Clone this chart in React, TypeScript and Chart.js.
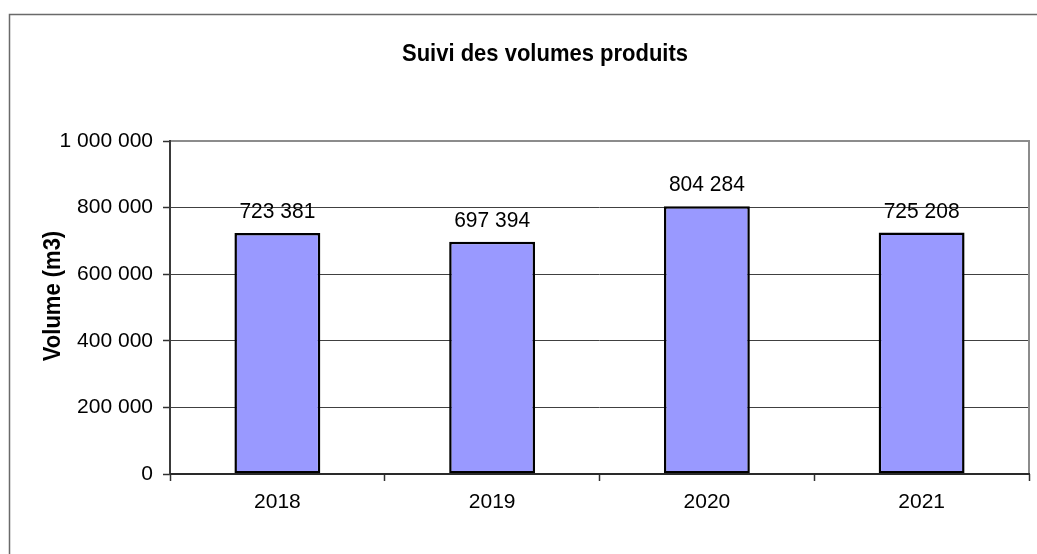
import React, { useEffect, useRef } from "react";
import { Chart, registerables } from "chart.js";

Chart.register(...registerables);

const categories = ["2018", "2019", "2020", "2021"];
const volumes = [723381, 697394, 804284, 725208];
const yTicks = [0, 200000, 400000, 600000, 800000, 1000000];
const chartTitle = "Suivi des volumes produits";
const yTitle = "Volume (m3)";

const FONT = '"Liberation Sans", Arial, sans-serif';
const fmt = (v: number) => String(v).replace(/\B(?=(\d{3})+(?!\d))/g, " ");

const decorPlugin = {
  id: "decor",
  beforeDraw(chart: any) {
    const ctx = chart.ctx;
    ctx.save();
    ctx.fillStyle = "#ffffff";
    ctx.fillRect(0, 0, chart.width, chart.height);
    ctx.strokeStyle = "#6a6a6a";
    ctx.lineWidth = 1.5;
    ctx.strokeRect(9.5, 14.5, 1200, 700);
    // titles
    ctx.fillStyle = "#000";
    ctx.font = `bold 22px ${FONT}`;
    ctx.textAlign = "center";
    ctx.textBaseline = "middle";
    ctx.save();
    ctx.translate(545, 54);
    ctx.scale(1, 1.12);
    ctx.fillText(chartTitle, 0, 0);
    ctx.restore();
    ctx.translate(53, 296);
    ctx.rotate(-Math.PI / 2);
    ctx.scale(1, 1.08);
    ctx.fillText(yTitle, 0, 0);
    ctx.restore();
  },
  afterDatasetsDraw(chart: any) {
    const ctx = chart.ctx;
    const a = chart.chartArea;
    ctx.save();
    // plot border: top & right gray
    ctx.strokeStyle = "#8c8c8c";
    ctx.lineWidth = 2;
    ctx.beginPath();
    ctx.moveTo(a.left, a.top);
    ctx.lineTo(a.right, a.top);
    ctx.lineTo(a.right, a.bottom);
    ctx.stroke();
    // left axis
    ctx.strokeStyle = "#3a3a3a";
    ctx.beginPath();
    ctx.moveTo(a.left, a.top - 1);
    ctx.lineTo(a.left, a.bottom + 1);
    ctx.stroke();
    // bottom axis
    ctx.strokeStyle = "#2a2a2a";
    ctx.beginPath();
    ctx.moveTo(a.left, a.bottom);
    ctx.lineTo(a.right + 1, a.bottom);
    ctx.stroke();
    // data labels
    const meta = chart.getDatasetMeta(0);
    ctx.fillStyle = "#000";
    ctx.font = `21px ${FONT}`;
    ctx.textAlign = "center";
    ctx.textBaseline = "alphabetic";
    meta.data.forEach((bar: any, i: number) => {
      ctx.save();
      ctx.translate(bar.x, bar.y - 15);
      ctx.scale(1, 1.08);
      ctx.fillText(fmt(volumes[i]), 0, 0);
      ctx.restore();
    });
    ctx.restore();
  },
};

export default function App() {
  const ref = useRef<HTMLCanvasElement>(null);
  useEffect(() => {
    if (!ref.current) return;
    const chart = new Chart(ref.current, {
      type: "bar",
      data: {
        labels: categories,
        datasets: [
          {
            data: volumes,
            backgroundColor: "#9999ff",
            borderColor: "#000000",
            borderWidth: 2.5,
            borderSkipped: false,
            barPercentage: 0.4,
            categoryPercentage: 1,
          },
        ],
      },
      options: {
        animation: false,
        responsive: false,
        devicePixelRatio: 1,
        layout: { padding: { left: 0, top: 141, right: 8, bottom: 0 } },
        plugins: { legend: { display: false }, title: { display: false }, tooltip: { enabled: false } },
        scales: {
          x: {
            offset: true,
            grid: {
              offset: true,
              drawOnChartArea: false,
              drawTicks: true,
              tickLength: 7,
              tickColor: "#303030",
              tickWidth: 1.5,
            },
            border: { display: false },
            ticks: { color: "#000", font: { family: FONT, size: 21 }, padding: 9, maxRotation: 0 },
            afterFit: (s: any) => { s.height = 80; },
          },
          y: {
            min: 0,
            max: 1000000,
            afterBuildTicks: (s: any) => { s.ticks = yTicks.map((v) => ({ value: v })); },
            grid: {
              color: (c: any) => (c.tick && (c.tick.value === 0 || c.tick.value === 1000000) ? "rgba(0,0,0,0)" : "#404040"),
              lineWidth: 1,
              borderDash: [1, 1],
              tickLength: 7,
              tickColor: "#303030",
              tickWidth: 1.5,
              tickBorderDash: [],
            },
            border: { display: false },
            ticks: {
              color: "#000",
              font: { family: FONT, size: 21 },
              padding: 10,
              callback: (v: any) => fmt(Number(v)),
            },
            afterFit: (s: any) => { s.width = 170; },
          },
        },
      },
      plugins: [decorPlugin],
    });
    return () => chart.destroy();
  }, []);
  return (
    <div style={{ position: "absolute", left: 0, top: 0, width: 1037, height: 554 }}>
      <canvas ref={ref} width={1037} height={554} style={{ display: "block" }} />
    </div>
  );
}
